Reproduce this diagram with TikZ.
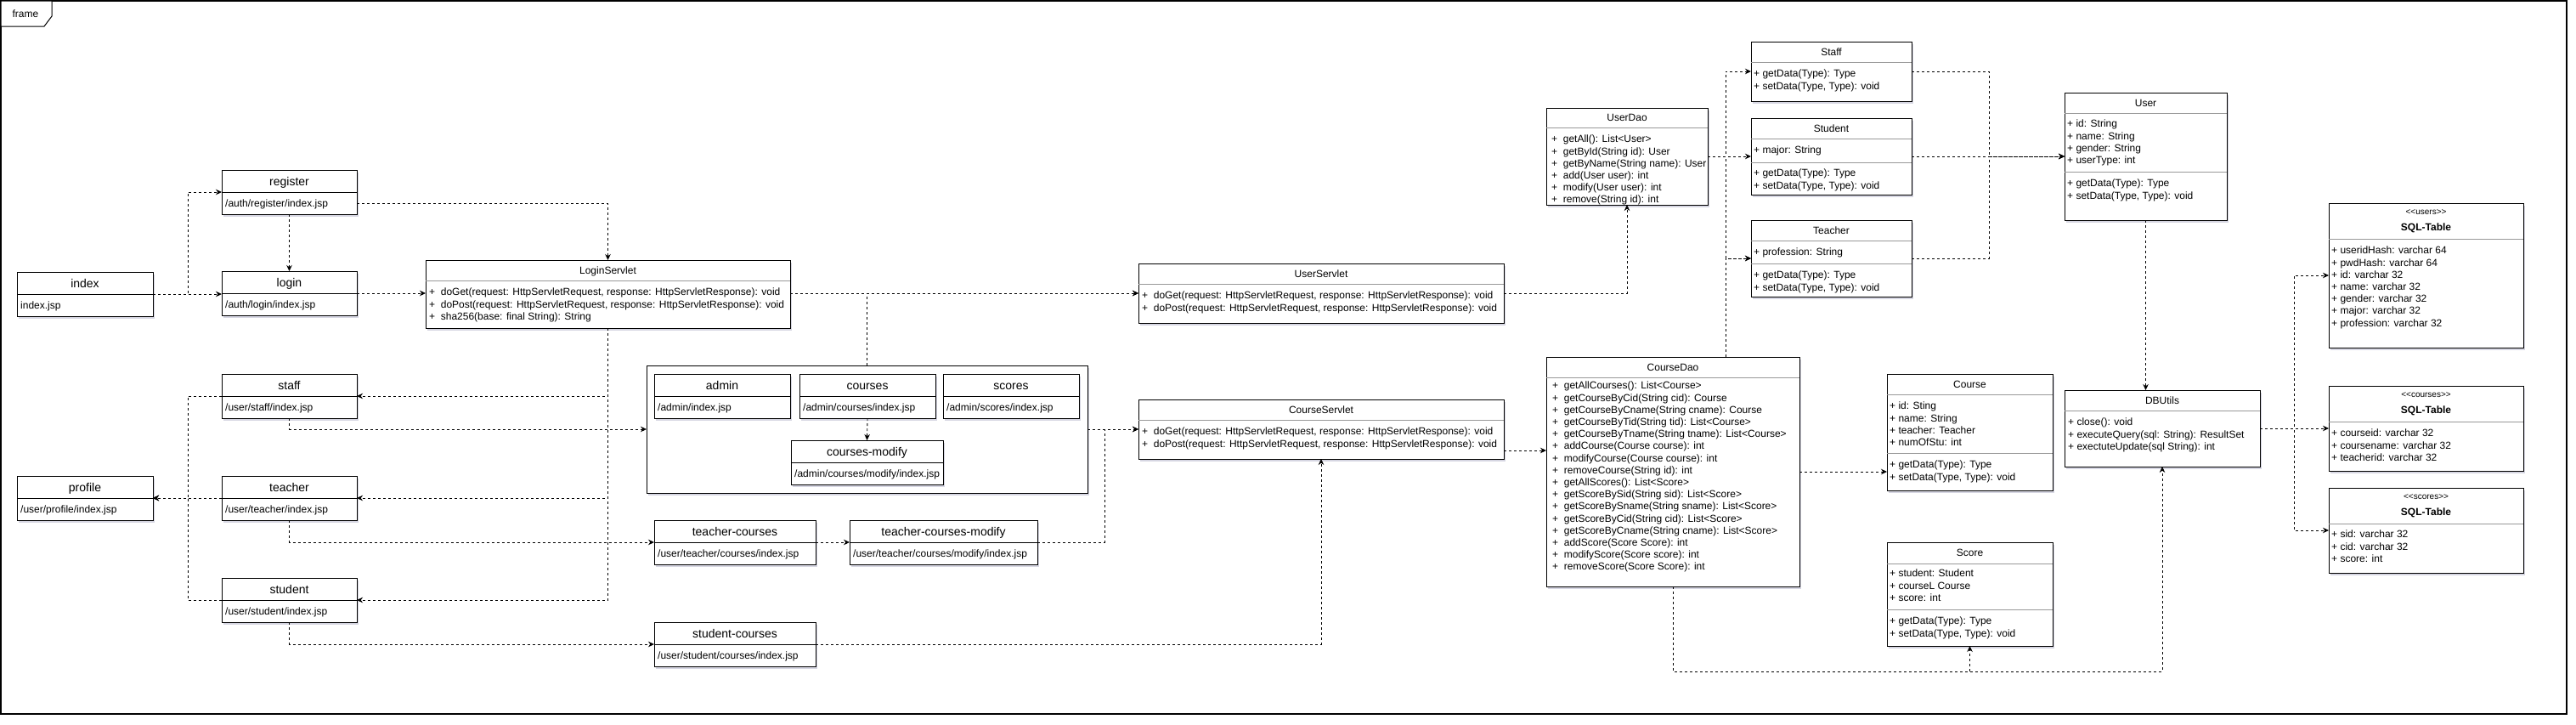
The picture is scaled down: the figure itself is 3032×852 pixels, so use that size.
\documentclass[tikz,border=0pt]{standalone}
\usepackage{fontspec}
\setmainfont{Liberation Sans}
\usetikzlibrary{arrows.meta,shadows,calc}
\tikzset{
  box/.style={draw=black, fill=white, line width=1pt, inner sep=0pt, outer sep=0pt,
    drop shadow={shadow xshift=2pt, shadow yshift=-2.5pt, opacity=0.16, fill=black!70!blue}},
  divl/.style={draw=black!40, line width=0.8pt},
  ttl/.style={inner sep=0pt, font=\fontsize{12}{14}\selectfont, text height=8.6pt, text depth=0pt},
  stt/.style={inner sep=0pt, font=\fontsize{10}{12}\selectfont, text height=7pt, text depth=0pt},
  jttl/.style={inner sep=0pt, font=\fontsize{14}{16}\selectfont, text height=10pt, text depth=0pt},
  ptxt/.style={anchor=west, inner sep=0pt, font=\fontsize{12}{14}\selectfont, text height=8.6pt, text depth=0pt},
  txt/.style={anchor=north west, inner sep=0pt, align=left, font=\fontsize{12}{14.2}\selectfont},
  dep/.style={draw=black, line width=0.85pt, dash pattern=on 3pt off 3pt, -{Stealth[length=7pt,width=6.5pt]}},
}
\newcommand\umlc[7]{%
  \node[box, minimum width={(#4-#2)*1pt}, minimum height={(#5-#3)*1pt}] (#1) at ({(#2+#4)/2},{(#3+#5)/2}) {};
  \draw[divl] (#2,#6) -- (#4,#6);
  \node[ttl] (#1-t) at ({(#2+#4)/2},{(#3+#6)/2}) {#7};
}
\newcommand\umlj[6]{%
  \node[box, minimum width={#4*1pt}, minimum height=26pt, anchor=north west] (#1) at (#2,#3) {};
  \node[box, minimum width={#4*1pt}, minimum height=26pt, anchor=north west] (#1-b) at (#1.south west) {};
  \node[jttl] (#1-t) at (#1.center) {#5};
  \node[ptxt] (#1-p) at ([xshift=4pt]#1-b.west) {#6};
}
\begin{document}
\begin{tikzpicture}[x=1pt,y=-1pt]
\useasboundingbox (0,0) rectangle (3032,852);
\fill[white] (0,0) rectangle (3032,852);
% frame
\node[draw=black, line width=1.2pt, minimum width=3020pt, minimum height=839pt, anchor=north west, inner sep=0pt, outer sep=0pt] (frame) at (1,1) {};
\draw[line width=1pt, fill=white] (1,1) -- (61,1) -- (61,19) -- (52,31) -- (1,31) -- cycle;
\node[ttl] (frame-t) at (30,16) {frame};

% jsp boxes
\umlj{index}{20}{320}{160}{index}{index.jsp}
\umlj{register}{261}{200}{159}{register}{/auth/register/index.jsp}
\umlj{login}{261}{319}{159}{login}{/auth/login/index.jsp}
\umlj{profile}{20}{560}{160}{profile}{/user/profile/index.jsp}
\umlj{staff}{261}{440}{159}{staff}{/user/staff/index.jsp}
\umlj{teacher}{261}{560}{159}{teacher}{/user/teacher/index.jsp}
\umlj{student}{261}{680}{159}{student}{/user/student/index.jsp}

\node[box, minimum width=519pt, minimum height=150pt, anchor=north west] (container) at (761,430) {};
\umlj{admin}{770}{440}{160}{admin}{/admin/index.jsp}
\umlj{courses}{941}{440}{160}{courses}{/admin/courses/index.jsp}
\umlj{scores}{1110}{440}{160}{scores}{/admin/scores/index.jsp}
\umlj{cmodify}{931}{518}{179}{courses-modify}{/admin/courses/modify/index.jsp}
\umlj{tcourses}{770}{612}{190}{teacher-courses}{/user/teacher/courses/index.jsp}
\umlj{tcmodify}{1000}{612}{221}{teacher-courses-modify}{/user/teacher/courses/modify/index.jsp}
\umlj{scourses}{770}{732}{190}{student-courses}{/user/student/courses/index.jsp}

% servlets
\umlc{LoginServlet}{501}{306}{930}{386}{330}{LoginServlet}
\node[txt] (LoginServlet-a) at (505,339) {+\ \ doGet(request: HttpServletRequest, response: HttpServletResponse): void\\+\ \ doPost(request: HttpServletRequest, response: HttpServletResponse): void\\+\ \ sha256(base: final String): String};
\umlc{UserServlet}{1340}{310}{1770}{380}{334}{UserServlet}
\node[txt] (UserServlet-a) at (1344,343) {+\ \ doGet(request: HttpServletRequest, response: HttpServletResponse): void\\+\ \ doPost(request: HttpServletRequest, response: HttpServletResponse): void};
\umlc{CourseServlet}{1340}{470}{1770}{540}{494}{CourseServlet}
\node[txt] (CourseServlet-a) at (1344,503) {+\ \ doGet(request: HttpServletRequest, response: HttpServletResponse): void\\+\ \ doPost(request: HttpServletRequest, response: HttpServletResponse): void};

% daos
\umlc{UserDao}{1820}{127}{2010}{241}{150}{UserDao}
\node[txt] (UserDao-a) at (1826,159) {+\ \ getAll(): List<User>\\+\ \ getById(String id): User\\+\ \ getByName(String name): User\\+\ \ add(User user): int\\+\ \ modify(User user): int\\+\ \ remove(String id): int};
\umlc{CourseDao}{1820}{420}{2118}{690}{444}{CourseDao}
\node[txt] (CourseDao-a) at (1827,449) {+\ \ getAllCourses(): List<Course>\\+\ \ getCourseByCid(String cid): Course\\+\ \ getCourseByCname(String cname): Course\\+\ \ getCourseByTid(String tid): List<Course>\\+\ \ getCourseByTname(String tname): List<Course>\\+\ \ addCourse(Course course): int\\+\ \ modifyCourse(Course course): int\\+\ \ removeCourse(String id): int\\+\ \ getAllScores(): List<Score>\\+\ \ getScoreBySid(String sid): List<Score>\\+\ \ getScoreBySname(String sname): List<Score>\\+\ \ getScoreByCid(String cid): List<Score>\\+\ \ getScoreByCname(String cname): List<Score>\\+\ \ addScore(Score Score): int\\+\ \ modifyScore(Score score): int\\+\ \ removeScore(Score Score): int};

% entities
\umlc{Staff}{2061}{49}{2250}{119}{73}{Staff}
\node[txt] (Staff-a) at (2064,82) {+ getData(Type): Type\\+ setData(Type, Type): void};
\umlc{Student}{2061}{139}{2250}{229}{163}{Student}
\draw[divl] (2061,191) -- (2250,191);
\node[txt] (Student-a) at (2064,172) {+ major: String};
\node[txt] (Student-m) at (2064,199) {+ getData(Type): Type\\+ setData(Type, Type): void};
\umlc{Teacher}{2061}{259}{2250}{349}{283}{Teacher}
\draw[divl] (2061,310) -- (2250,310);
\node[txt] (Teacher-a) at (2064,292) {+ profession: String};
\node[txt] (Teacher-m) at (2064,319) {+ getData(Type): Type\\+ setData(Type, Type): void};
\umlc{User}{2430}{109}{2621}{259}{133}{User}
\draw[divl] (2430,202) -- (2621,202);
\node[txt] (User-a) at (2433,141) {+ id: String\\+ name: String\\+ gender: String\\+ userType: int};
\node[txt] (User-m) at (2433,211) {+ getData(Type): Type\\+ setData(Type, Type): void};
\umlc{Course}{2221}{440}{2416}{577}{464}{Course}
\draw[divl] (2221,533) -- (2416,533);
\node[txt] (Course-a) at (2224,473) {+ id: Sting\\+ name: String\\+ teacher: Teacher\\+ numOfStu: int};
\node[txt] (Course-m) at (2224,542) {+ getData(Type): Type\\+ setData(Type, Type): void};
\umlc{Score}{2221}{638}{2416}{760}{663}{Score}
\draw[divl] (2221,717) -- (2416,717);
\node[txt] (Score-a) at (2224,670) {+ student: Student\\+ courseL Course\\+ score: int};
\node[txt] (Score-m) at (2224,726) {+ getData(Type): Type\\+ setData(Type, Type): void};
\umlc{DBUtils}{2430}{459}{2660}{549}{483}{DBUtils}
\node[txt] (DBUtils-a) at (2434,492) {+ close(): void\\+ executeQuery(sql: String): ResultSet\\+ exectuteUpdate(sql String): int};

% tables
\umlc{utable}{2741}{239}{2970}{409}{281}{}
\node[stt] (utable-s) at (2855.5,249) {<{}<users>{}>};
\node[ttl, font=\fontsize{12}{14}\selectfont\bfseries] (utable-n) at (2855.5,267) {SQL-Table};
\node[txt] (utable-a) at (2744,290) {+ useridHash: varchar 64\\+ pwdHash: varchar 64\\+ id: varchar 32\\+ name: varchar 32\\+ gender: varchar 32\\+ major: varchar 32\\+ profession: varchar 32};
\umlc{ctable}{2741}{454}{2970}{554}{496}{}
\node[stt] (ctable-s) at (2855.5,464) {<{}<courses>{}>};
\node[ttl, font=\fontsize{12}{14}\selectfont\bfseries] (ctable-n) at (2855.5,482) {SQL-Table};
\node[txt] (ctable-a) at (2744,505) {+ courseid: varchar 32\\+ coursename: varchar 32\\+ teacherid: varchar 32};
\umlc{stable}{2741}{574}{2970}{674}{616}{}
\node[stt] (stable-s) at (2855.5,584) {<{}<scores>{}>};
\node[ttl, font=\fontsize{12}{14}\selectfont\bfseries] (stable-n) at (2855.5,602) {SQL-Table};
\node[txt] (stable-a) at (2744,624) {+ sid: varchar 32\\+ cid: varchar 32\\+ score: int};

% waypoints
\coordinate (jA) at (221,300);
\coordinate (jB) at (221,586);
\coordinate (jC) at (1300,600);
\coordinate (jE) at (1795,530);
\coordinate (jF) at (2031,184);
\coordinate (jS) at (2031,84);
\coordinate (jT) at (2031,304);
\coordinate (jH) at (2341,184);
\coordinate (jI) at (2700,324);
\coordinate (jJ) at (2700,624);
\coordinate (jK) at (2160,555);
\coordinate (jL) at (2545,790);

% connectors
\draw[dep] (index.south east) -- (index.south east -| login.west);
\draw[dep] (index.south east) -| (jA) |- (register.south west);
\draw[dep] (register-b.south) -- (login.north);
\draw[dep] (register-b.east) -| (LoginServlet.north);
\draw[dep] (login.south east) -- (login.south east -| LoginServlet.west);
\draw[dep] (login.south east -| LoginServlet.east) -- (login.south east -| UserServlet.west);
\draw[dep] (LoginServlet.south) |- (staff.south east);
\draw[dep] (LoginServlet.south) |- (teacher.south east);
\draw[dep] (LoginServlet.south) |- (student.south east);
\draw[dep] (staff.south west) -| (jB) -- (profile.south east);
\draw[dep] (teacher.south west) -- (profile.south east);
\draw[dep] (student.south west) -| (jB) -- (profile.south east);
\draw[dep] (staff-b.south) |- (container.west);
\draw[dep] (teacher-b.south) |- (tcourses.south west);
\draw[dep] (student-b.south) |- (scourses.south west);
\draw[dep] (courses-b.south) -- (cmodify.north);
\draw[dep] (container.north) |- (login.south east -| UserServlet.west);
\draw[dep] (container.east) -- (container.east -| CourseServlet.west);
\draw[dep] (tcourses.south east) -- (tcmodify.south west);
\draw[dep] (tcmodify.south east) -| (jC) |- (container.east -| CourseServlet.west);
\draw[dep] (scourses.south east) -| (CourseServlet.south);
\draw[dep] (login.south east -| UserServlet.east) -| (UserDao.south);
\draw[dep] (CourseServlet.east |- jE) -- (jE -| CourseDao.west);
\draw[dep] (UserDao.east |- jF) -- (jF -| Student.west);
\draw[dep] (UserDao.east |- jF) -| (jS) -- (jS -| Staff.west);
\draw[dep] (UserDao.east |- jF) -| (jT) -- (jT -| Teacher.west);
\draw[dep] (CourseDao.north -| jT) -- (jT) -- (jT -| Teacher.west);
\draw[dep] (Staff.east |- jS) -| (jH) -- (jH -| User.west);
\draw[dep] (Student.east |- jF) -- (jF -| User.west);
\draw[dep] (Teacher.east |- jT) -| (jH) -- (jH -| User.west);
\draw[dep] (User.south) -- (User.south |- DBUtils.north);
\draw[dep] (DBUtils.east) -- (DBUtils.east -| ctable.west);
\draw[dep] (DBUtils.east) -| (jI) -- (jI -| utable.west);
\draw[dep] (DBUtils.east) -| (jJ) -- (jJ -| stable.west);
\draw[dep] (CourseDao.east |- jK) -- (jK -| Course.west);
\draw[dep] (CourseDao.south) |- (jL) -- (jL |- DBUtils.south);
\draw[dep] (CourseDao.south) |- (Score.south |- jL) -- (Score.south);
\end{tikzpicture}
\end{document}
